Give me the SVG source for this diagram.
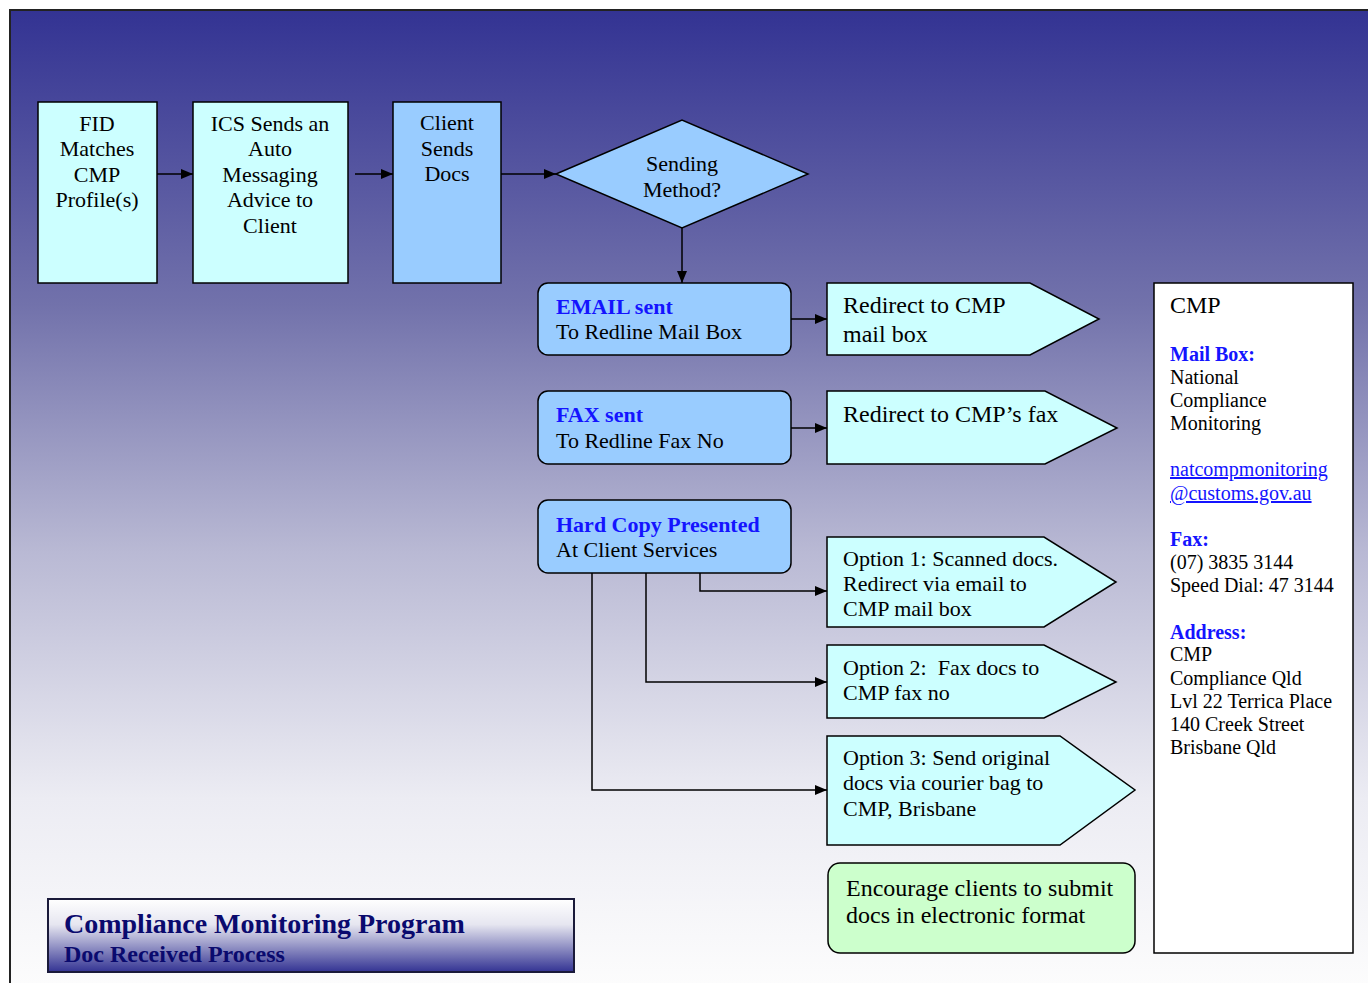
<svg xmlns="http://www.w3.org/2000/svg" width="1368" height="983" viewBox="0 0 1368 983">
<defs>
<linearGradient id="bg" x1="0" y1="0" x2="0" y2="1">
<stop offset="0" stop-color="#333393"/>
<stop offset="0.3" stop-color="#7272ab"/>
<stop offset="0.55" stop-color="#b9b9d4"/>
<stop offset="0.8" stop-color="#ececf3"/>
<stop offset="1" stop-color="#fdfdfd"/>
</linearGradient>
<linearGradient id="tb" x1="0" y1="0" x2="0" y2="1">
<stop offset="0" stop-color="#ffffff"/>
<stop offset="0.35" stop-color="#e6e6f0"/>
<stop offset="1" stop-color="#333393"/>
</linearGradient>
<marker id="ah" markerWidth="12" markerHeight="10" refX="12" refY="5" orient="auto" markerUnits="userSpaceOnUse">
<path d="M0,0 L12,5 L0,10 Z" fill="#000"/>
</marker>
<style>
text{font-family:"Liberation Serif","Times New Roman",serif;fill:#000}
.n{font-size:22px}
.m{font-size:22px}
.r{font-size:24px}
.s{font-size:20px}
.b{font-weight:bold;fill:#1414ff}
.box{stroke:#000;stroke-width:1.5}
.lb{fill:#ccffff}
.db{fill:#99ccff}
.c{fill:none;stroke:#000;stroke-width:1.5}
.ln{fill:#1414ff;text-decoration:underline}
</style>
</defs>
<rect x="10" y="10" width="1370" height="985" fill="url(#bg)" stroke="#222" stroke-width="2"/>

<g id="title">
<rect x="48" y="899" width="526" height="73" fill="url(#tb)" stroke="#1a1a3a" stroke-width="2"/>
<text x="64" y="933" style="font-size:28px;font-weight:bold;fill:#0a0a6e">Compliance Monitoring Program</text>
<text x="64" y="962" style="font-size:24px;font-weight:bold;fill:#0a0a6e">Doc Received Process</text>
</g>

<g id="connectors">
<line class="c" x1="157" y1="174" x2="193" y2="174" marker-end="url(#ah)"/>
<line class="c" x1="355" y1="174" x2="393" y2="174" marker-end="url(#ah)"/>
<line class="c" x1="501" y1="174" x2="556" y2="174" marker-end="url(#ah)"/>
<line class="c" x1="682" y1="228" x2="682" y2="283" marker-end="url(#ah)"/>
<line class="c" x1="791" y1="319" x2="827" y2="319" marker-end="url(#ah)"/>
<line class="c" x1="791" y1="428" x2="827" y2="428" marker-end="url(#ah)"/>
<polyline class="c" points="700,573 700,591 827,591" marker-end="url(#ah)"/>
<polyline class="c" points="646,573 646,682 827,682" marker-end="url(#ah)"/>
<polyline class="c" points="592,573 592,790 827,790" marker-end="url(#ah)"/>
</g>

<g id="fid">
<rect class="box lb" x="38" y="102" width="119" height="181"/>
<text class="n" text-anchor="middle"><tspan x="97" y="131">FID</tspan><tspan x="97" y="156">Matches</tspan><tspan x="97" y="182">CMP</tspan><tspan x="97" y="207">Profile(s)</tspan></text>
</g>

<g id="ics">
<rect class="box lb" x="193" y="102" width="155" height="181"/>
<text class="n" text-anchor="middle"><tspan x="270" y="131">ICS Sends an</tspan><tspan x="270" y="156">Auto</tspan><tspan x="270" y="182">Messaging</tspan><tspan x="270" y="207">Advice to</tspan><tspan x="270" y="233">Client</tspan></text>
</g>

<g id="client">
<rect class="box db" x="393" y="102" width="108" height="181"/>
<text class="n" text-anchor="middle"><tspan x="447" y="130">Client</tspan><tspan x="447" y="156">Sends</tspan><tspan x="447" y="181">Docs</tspan></text>
</g>

<g id="decision">
<polygon class="box db" points="556,174 682,120 808,174 682,228"/>
<text class="n" text-anchor="middle"><tspan x="682" y="171">Sending</tspan><tspan x="682" y="197">Method?</tspan></text>
</g>

<g id="email">
<rect class="box db" x="538" y="283" width="253" height="72" rx="10"/>
<text class="m" x="556" y="314"><tspan class="b">EMAIL sent</tspan></text>
<text class="m" x="556" y="339">To Redline Mail Box</text>
</g>

<g id="redirect-mail">
<polygon class="box lb" points="827,283 1030,283 1099,319 1030,355 827,355"/>
<text class="r" x="843" y="313">Redirect to CMP</text>
<text class="r" x="843" y="342">mail box</text>
</g>

<g id="fax">
<rect class="box db" x="538" y="391" width="253" height="73" rx="10"/>
<text class="m" x="556" y="422"><tspan class="b">FAX sent</tspan></text>
<text class="m" x="556" y="448">To Redline Fax No</text>
</g>

<g id="redirect-fax">
<polygon class="box lb" points="827,391 1045,391 1117,428 1045,464 827,464"/>
<text class="r" x="843" y="422">Redirect to CMP’s fax</text>
</g>

<g id="hardcopy">
<rect class="box db" x="538" y="500" width="253" height="73" rx="10"/>
<text class="m" x="556" y="532"><tspan class="b">Hard Copy Presented</tspan></text>
<text class="m" x="556" y="557">At Client Services</text>
</g>

<g id="option1">
<polygon class="box lb" points="827,537 1044,537 1116,582 1044,627 827,627"/>
<text class="m"><tspan x="843" y="566">Option 1: Scanned docs.</tspan><tspan x="843" y="591">Redirect via email to</tspan><tspan x="843" y="616">CMP mail box</tspan></text>
</g>

<g id="option2">
<polygon class="box lb" points="827,645 1044,645 1116,682 1044,718 827,718"/>
<text class="m" xml:space="preserve"><tspan x="843" y="675">Option 2:  Fax docs to</tspan><tspan x="843" y="700">CMP fax no</tspan></text>
</g>

<g id="option3">
<polygon class="box lb" points="827,736 1060,736 1135,790 1060,845 827,845"/>
<text class="m"><tspan x="843" y="765">Option 3: Send original</tspan><tspan x="843" y="790">docs via courier bag to</tspan><tspan x="843" y="816">CMP, Brisbane</tspan></text>
</g>

<g id="encourage">
<rect class="box" x="828" y="863" width="307" height="90" rx="12" fill="#ccffcc"/>
<text class="r"><tspan x="846" y="896">Encourage clients to submit</tspan><tspan x="846" y="923">docs in electronic format</tspan></text>
</g>

<g id="cmp-panel">
<rect class="box" x="1154" y="283" width="199" height="670" fill="#fff"/>
<text x="1170" y="313" style="font-size:24px">CMP</text>
<text class="s">
<tspan x="1170" y="361" class="b">Mail Box:</tspan>
<tspan x="1170" y="384">National</tspan>
<tspan x="1170" y="407">Compliance</tspan>
<tspan x="1170" y="430">Monitoring</tspan>
<tspan x="1170" y="476" class="ln">natcompmonitoring</tspan>
<tspan x="1170" y="500" class="ln">@customs.gov.au</tspan>
<tspan x="1170" y="546" class="b">Fax:</tspan>
<tspan x="1170" y="569">(07) 3835 3144</tspan>
<tspan x="1170" y="592">Speed Dial: 47 3144</tspan>
<tspan x="1170" y="639" class="b">Address:</tspan>
<tspan x="1170" y="661">CMP</tspan>
<tspan x="1170" y="685">Compliance Qld</tspan>
<tspan x="1170" y="708">Lvl 22 Terrica Place</tspan>
<tspan x="1170" y="731">140 Creek Street</tspan>
<tspan x="1170" y="754">Brisbane Qld</tspan>
</text>
</g>
</svg>
